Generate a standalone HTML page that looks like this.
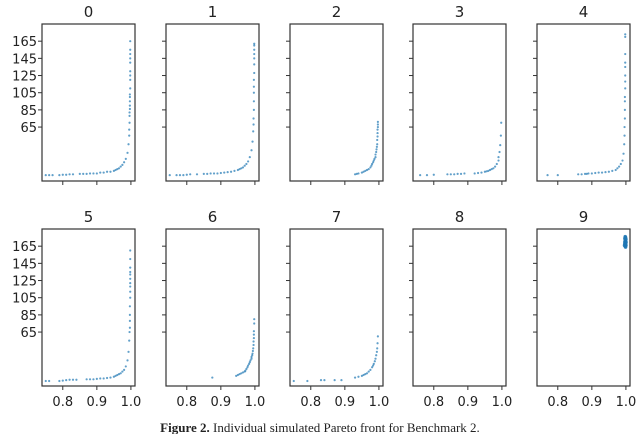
<!DOCTYPE html>
<html><head><meta charset="utf-8"><style>
body{margin:0;background:#fff;width:640px;height:434px;overflow:hidden}
svg text{font-family:"DejaVu Sans","Liberation Sans",sans-serif;fill:#222}
</style></head><body>
<svg id="fig" width="640" height="434" viewBox="0 0 640 434" xmlns="http://www.w3.org/2000/svg"></svg>
<script>
const panelTitles = ["0","1","2","3","4","5","6","7","8","9"];
const xTicks = [0.8, 0.9, 1.0];
const xTickLabels = ["0.8","0.9","1.0"];
const yTicks = [165,145,125,105,85,65];
const yTickLabels = ["165","145","125","105","85","65"];
const xs0 = [.75,.76,.77,.79,.80,.81,.82,.83,.85,.86,.87,.88,.89,.90,.91,.92,.93,.94,.95,.955,.96,.965,.97,.975,.98,.985,.99,.993,.995,.995,.996,.996,.996,.997,.997,.997,.997,.997,.998,.998,.998,.998,.998,.998,.998,.998,.998];
const ys0 = [9,9,9,9,9.5,9.5,10,10,10.5,10.5,10.5,11,11,11,12,12,13,13,14,15,16,17,19,21,24,28,35,45,55,62,70,78,82,86,90,95,100,103,110,120,125,130,140,145,150,155,165];
const xs1 = [.75,.77,.78,.79,.80,.81,.83,.85,.86,.87,.88,.89,.90,.91,.92,.93,.94,.95,.955,.96,.965,.97,.975,.98,.985,.99,.993,.995,.996,.996,.997,.997,.997,.997,.997,.998,.998,.998,.998,.998,.998,.998];
const ys1 = [9,9,9,9,9.5,10,10,10.5,10.5,11,11,11,11.5,12,12.5,13,14,15,16,17,18,20,22,25,30,38,48,60,68,75,85,95,105,112,120,128,138,145,150,155,160,162];
const xs2 = [.93,.935,.94,.95,.955,.96,.965,.97,.975,.978,.98,.983,.985,.987,.99,.99,.992,.993,.994,.995,.995,.996,.996,.996,.997,.997,.997];
const ys2 = [10,10.5,11,12,13,14,15,16,18,20,22,24,26,28,30,33,36,39,42,45,50,54,58,62,65,68,71];
const xs3 = [.76,.78,.80,.84,.85,.86,.87,.88,.89,.92,.93,.94,.95,.955,.96,.965,.97,.975,.98,.985,.99,.99,.993,.995,.997,.998];
const ys3 = [9,9,9.5,10,10,10,10.5,10.5,11,11,11.5,12,13,13.5,14,15,16,17,19,22,26,30,36,44,55,70];
const xs4 = [.77,.80,.86,.87,.88,.885,.89,.90,.91,.92,.93,.94,.95,.96,.97,.975,.98,.985,.99,.993,.995,.996,.996,.997,.997,.997,.997,.998,.998,.998,.998,.998,.998,.998,.998];
const ys4 = [9,9,10,10,10.5,10.5,11,11,11.5,12,12,12.5,13,14,15,17,19,22,26,34,45,55,65,75,85,95,100,110,118,125,135,140,150,170,173];
const xs5 = [.75,.76,.79,.80,.81,.82,.83,.84,.87,.88,.89,.90,.91,.92,.93,.94,.95,.955,.96,.965,.97,.975,.98,.985,.99,.993,.995,.996,.997,.997,.997,.997,.998,.998,.998,.998,.998,.998,.998,.998,.998,.998];
const ys5 = [8,8,8,8.5,9,9.5,9.5,9.5,10,10,10,10.5,11,11,11.5,12,13,14,15,16,17,19,21,25,32,42,55,65,70,78,85,95,105,112,118,122,127,132,135,140,150,160];
const xs6 = [.875,.945,.95,.955,.96,.965,.97,.972,.975,.978,.98,.983,.985,.987,.99,.99,.992,.993,.994,.995,.996,.996,.997,.997,.997,.998,.998];
const ys6 = [12,14,15,16,17,18,19,20,22,24,26,28,30,32,34,36,38,40,43,46,50,54,58,62,66,75,80];
const xs7 = [.75,.79,.83,.84,.87,.89,.93,.94,.95,.955,.96,.965,.97,.975,.98,.983,.985,.988,.99,.992,.994,.995,.996,.997];
const ys7 = [8,8,9,9,9,9,12,13,14,15,16,17,19,21,24,26,28,31,34,38,42,46,52,60];
const xs8 = [];
const ys8 = [];
const xs9 = [.996,.997,.997,.998,.998,.998,.999,.999,.999,1.0,1.0,1.0,.997,.998,.999,1.0];
const ys9 = [166,170,174,165,168,172,167,171,175,166,170,173,168,176,164,169];
const seriesX = [xs0,xs1,xs2,xs3,xs4,xs5,xs6,xs7,xs8,xs9];
const seriesY = [ys0,ys1,ys2,ys3,ys4,ys5,ys6,ys7,ys8,ys9];

const NS="http://www.w3.org/2000/svg";
const svg=document.getElementById('fig');
const lefts=[42,166,290,413,537], tops=[24,229], W=93, H=157;
const xMin=0.739, xMax=1.012, yMin=2.2, yMax=185;
function mk(tag,attrs,parent){const e=document.createElementNS(NS,tag);for(const k in attrs)e.setAttribute(k,attrs[k]);parent.appendChild(e);return e;}
for(let p=0;p<10;p++){
  const L=lefts[p%5], T=tops[Math.floor(p/5)];
  const sx=v=>L+(v-xMin)/(xMax-xMin)*W;
  const sy=v=>T+H-(v-yMin)/(yMax-yMin)*H;
  const g=mk('g',{},svg);
  
  
  const t=mk('text',{x:L+W/2,y:T-7,'text-anchor':'middle','font-size':'15'},g);
  t.textContent=panelTitles[p];
  
  
  const xsArr=seriesX[p], ysArr=seriesY[p];
  for(let i=0;i<xsArr.length;i++){
    const c=mk('circle',{cx:sx(xsArr[i]).toFixed(2),cy:sy(ysArr[i]).toFixed(2),r:p==9?1.8:1.1,fill:'#1f77b4','fill-opacity':p==9?0.9:0.7},g);
    
    
  }
  const fr=mk('rect',{x:L,y:T,width:W,height:H,fill:'none',stroke:'#333','stroke-width':1.2},g);
  
  
  for(let i=0;i<yTicks.length;i++){
    const y=sy(yTicks[i]);
    mk('line',{x1:L-4,x2:L,y1:y,y2:y,stroke:'#333','stroke-width':1},g);
    if(p%5==0){
      const tl=mk('text',{x:L-5,y:y+5,'text-anchor':'end','font-size':'13'},g);
      tl.textContent=yTickLabels[i];
      
      
    }
  }
  for(let i=0;i<xTicks.length;i++){
    const x=sx(xTicks[i]);
    mk('line',{x1:x,x2:x,y1:T+H,y2:T+H+4,stroke:'#333','stroke-width':1},g);
    if(p>=5){
      const tl=mk('text',{x:x,y:T+H+20,'text-anchor':'middle','font-size':'13'},g);
      tl.textContent=xTickLabels[i];
      
      
    }
  }
}
const cap=mk('text',{x:320,y:432,'text-anchor':'middle','font-size':'13',style:'font-family:"Liberation Serif",serif'},svg);


const b=mk('tspan',{'font-weight':'bold'},cap); b.textContent='Figure 2.';
const r=mk('tspan',{},cap); r.textContent=' Individual simulated Pareto front for Benchmark 2.';
</script>
</body></html>
